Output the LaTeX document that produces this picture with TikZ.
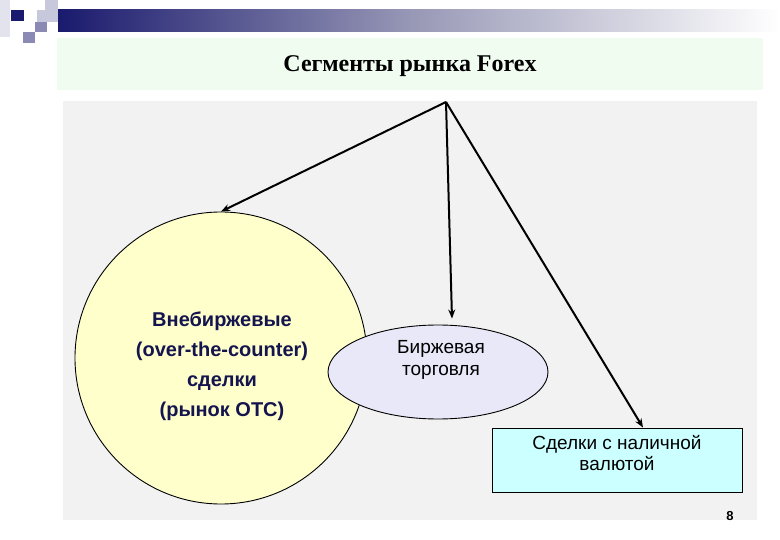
\documentclass[tikz,border=0pt]{standalone}
\usepackage{fontspec}
\setmainfont{Liberation Sans}
\newfontfamily\titlefont{Liberation Serif}
\usetikzlibrary{arrows.meta,shapes.geometric}
\definecolor{barnavy}{HTML}{1A1A6E}
\definecolor{barmid}{HTML}{9A9AB8}
\definecolor{sqlight}{HTML}{C8C8DC}
\definecolor{sqmid}{HTML}{8A8AB4}
\definecolor{bandgreen}{HTML}{F0FCF0}
\definecolor{panelgray}{HTML}{F2F2F2}
\definecolor{otcyellow}{HTML}{FFFFCC}
\definecolor{lavfill}{HTML}{E8E8F8}
\definecolor{spotcyan}{HTML}{CCFFFF}
\definecolor{otcnavy}{HTML}{14144E}
\tikzset{
  arr/.style={line width=2pt, -{Stealth[length=9pt,width=7pt]}},
  shapeline/.style={draw=black, line width=0.9pt},
}
\begin{document}
\begin{tikzpicture}[x=1pt,y=-1pt]
\useasboundingbox (0,0) rectangle (780,540);
\fill[white] (0,0) rectangle (780,540);
% header decoration
\shade[left color=barnavy, right color=white, middle color=barmid] (58,10) rectangle (780,32);
\fill[sqlight!50] (0,0) rectangle (10,37);
\fill[barnavy] (11,10) rectangle (24,21);
\fill[sqlight] (45,0) rectangle (58,10);
\fill[sqlight] (37,10) rectangle (58,22);
\fill[sqmid] (35,22) rectangle (47,32);
\fill[sqmid] (23,32) rectangle (35,43);
% title band
\fill[bandgreen] (57,38) rectangle (763,90);
\node[font=\titlefont\bfseries\fontsize{24}{28}\selectfont] (title) at (410,66) {Сегменты рынка Forex};
% panel
\fill[panelgray] (63,101) rectangle (757,520);
% shapes
\node[circle, shapeline, fill=otcyellow, minimum size=292pt, inner sep=0pt] (otc) at (221,358) {};
\node[align=center, text=otcnavy, font=\bfseries\fontsize{20}{30}\selectfont] (otctext) at (222,366)
  {Внебиржевые\\(over-the-counter)\\сделки\\(рынок OTC)};
\node[ellipse, shapeline, fill=lavfill, minimum width=220pt, minimum height=94pt, inner sep=0pt] (exch) at (438,372) {};
\node[align=center, font=\fontsize{19}{22}\selectfont] (exchtext) at (441,360) {Биржевая\\торговля};
\node[rectangle, shapeline, fill=spotcyan, minimum width=250pt, minimum height=64pt, inner sep=0pt] (spot) at (617,460) {};
\node[align=center, font=\fontsize{19}{21}\selectfont] (spottext) at (617,453) {Сделки с наличной\\валютой};
\node[font=\bfseries\fontsize{13}{15}\selectfont] (pagenum) at (730,516) {8};
% connectors
\coordinate (top) at (446,102);
\coordinate (exchend) at ([xshift=14pt,yshift=6pt]exch.north);
\coordinate (spotend) at ([xshift=26pt]spot.north);
\draw[arr] (top) -- (otc.north);
\draw[arr] (top) -- (exchend);
\draw[arr] (top) -- (spotend);
\end{tikzpicture}
\end{document}
